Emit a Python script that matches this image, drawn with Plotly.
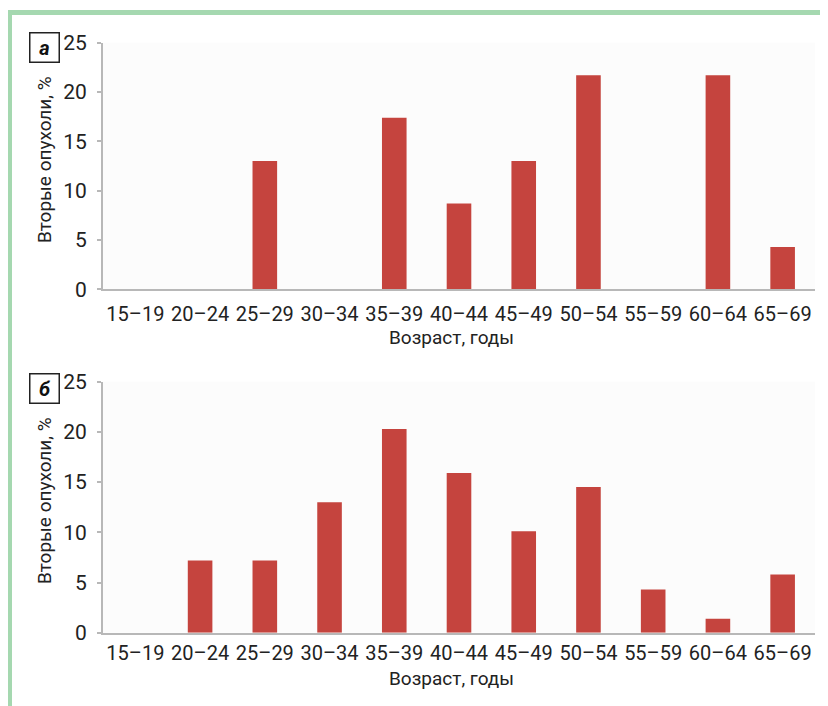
import plotly.graph_objects as go

categories = ["15–19", "20–24", "25–29", "30–34", "35–39", "40–44",
              "45–49", "50–54", "55–59", "60–64", "65–69"]
values_a = [0, 0, 13.0, 0, 17.4, 8.7, 13.0, 21.7, 0, 21.7, 4.3]
values_b = [0, 7.2, 7.2, 13.0, 20.3, 15.9, 10.1, 14.5, 4.3, 1.4, 5.8]
y_ticks = [0, 5, 10, 15, 20, 25]
panel_labels = ["а", "б"]
y_title = "Вторые опухоли, %"
x_title = "Возраст, годы"

OFF = 8  # page body margin
W, H = 828 - OFF, 706 - OFF
FONT = "Roboto, Liberation Sans, sans-serif"
BAR = "#c5443e"
AX = "#b8b8b8"
GREEN = "#a5d8b0"

def px_x(x):
    return max(0.0, (x - OFF) / W)

def px_y(y):
    return min(1.0, 1 - (y - OFF) / H)

fig = go.Figure()
fig.add_trace(go.Bar(x=categories, y=values_a, marker_color=BAR,
                     marker_line_width=0, xaxis="x", yaxis="y"))
fig.add_trace(go.Bar(x=categories, y=values_b, marker_color=BAR,
                     marker_line_width=0, xaxis="x2", yaxis="y2"))

xd = [px_x(103), px_x(815)]
common_x = dict(showgrid=False, showline=True, linecolor=AX, linewidth=2,
                ticks="", tickfont=dict(family=FONT, size=20, color="#222"),
                fixedrange=True, zeroline=False)
common_y = dict(range=[0, 25], tickvals=y_ticks, showgrid=False, showline=True,
                linecolor=AX, linewidth=2, ticks="outside", ticklen=4,
                tickcolor=AX, tickwidth=2, ticklabelstandoff=6,
                tickfont=dict(family=FONT, size=21, color="#222"),
                zeroline=False, fixedrange=True)

fig.update_layout(
    width=W, height=H,
    margin=dict(l=0, r=0, t=0, b=0, pad=0, autoexpand=False),
    paper_bgcolor="white", plot_bgcolor="#fcfcfc",
    showlegend=False, bargap=0.62,
    xaxis=dict(domain=xd, anchor="y", ticklabelstandoff=6, **common_x),
    yaxis=dict(domain=[px_y(289.3), px_y(42.7)], anchor="x", **common_y),
    xaxis2=dict(domain=xd, anchor="y2", ticklabelstandoff=1, **common_x),
    yaxis2=dict(domain=[px_y(632.7), px_y(381.7)], anchor="x2", **common_y),
)

annotations = []
for lab, ycen_title, yx_title, ybox in [(panel_labels[0], 160, 338, 47),
                                        (panel_labels[1], 501, 678, 388)]:
    annotations.append(dict(x=px_x(44), y=px_y(ycen_title), xref="paper", yref="paper",
                            text=y_title, textangle=-90, showarrow=False,
                            font=dict(family=FONT, size=19, color="#222"),
                            xanchor="center", yanchor="middle"))
    annotations.append(dict(x=px_x(451), y=px_y(yx_title), xref="paper", yref="paper",
                            text=x_title, showarrow=False,
                            font=dict(family=FONT, size=19, color="#222"),
                            xanchor="center", yanchor="middle"))
    annotations.append(dict(x=px_x(44), y=px_y(ybox), xref="paper", yref="paper",
                            text="<b><i>" + lab + "</i></b>", showarrow=False,
                            font=dict(family=FONT, size=20, color="#111"),
                            bordercolor="#222", borderwidth=1.5, borderpad=3,
                            width=22, height=22,
                            xanchor="center", yanchor="middle"))
fig.update_layout(annotations=annotations)

fig.update_layout(shapes=[
    dict(type="rect", xref="paper", yref="paper", x0=px_x(8), x1=1,
         y0=px_y(15), y1=px_y(10), fillcolor=GREEN, line_width=0),
    dict(type="rect", xref="paper", yref="paper", x0=px_x(8), x1=px_x(12),
         y0=0, y1=px_y(10), fillcolor=GREEN, line_width=0),
])

fig.write_html("out.html")
